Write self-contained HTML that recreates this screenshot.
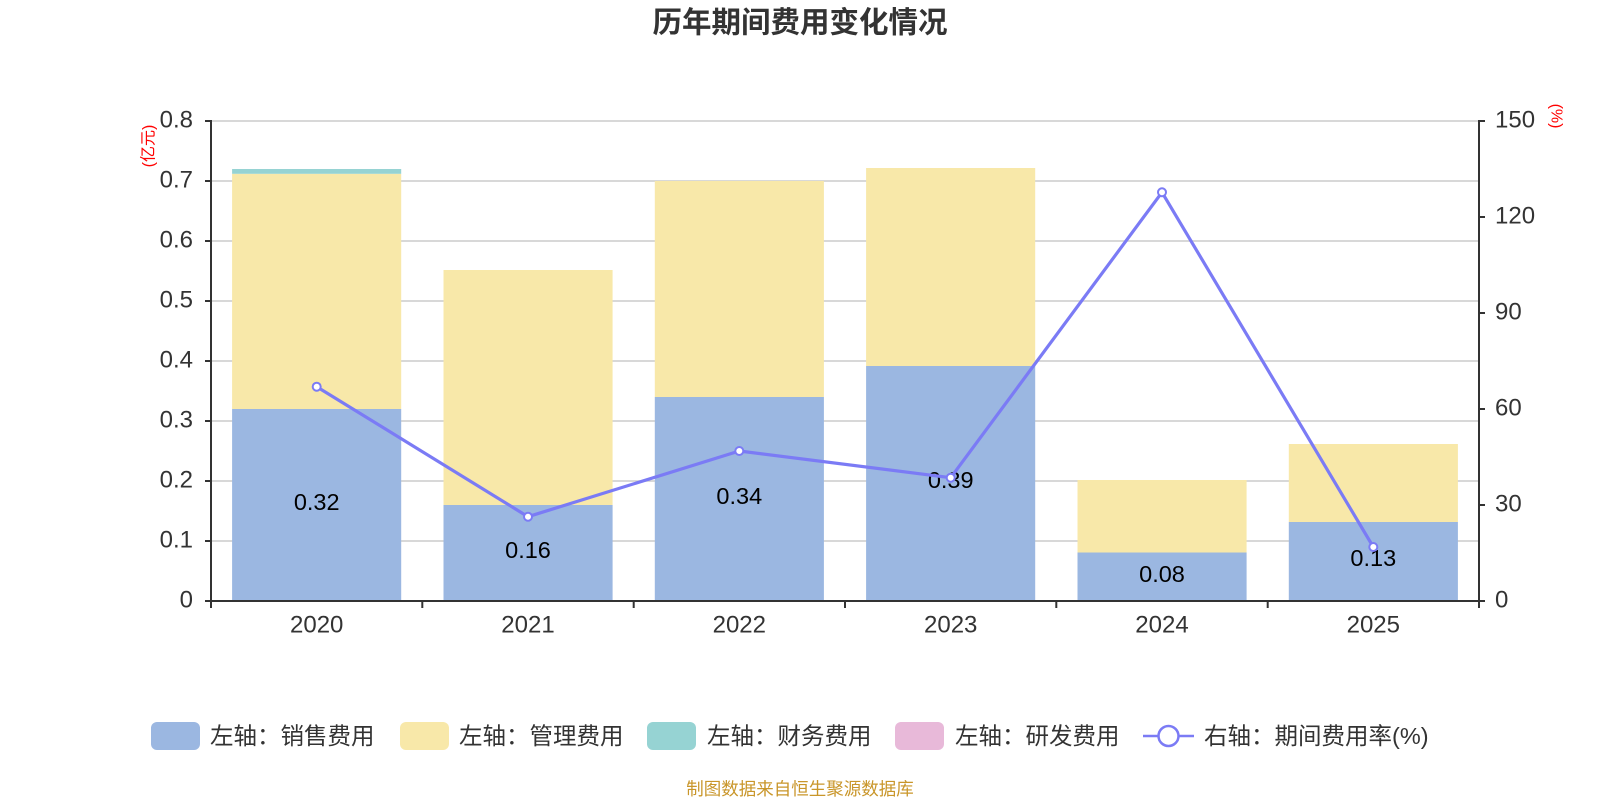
<!DOCTYPE html>
<html>
<head>
<meta charset="utf-8">
<style>
html,body{margin:0;padding:0;background:#fff;}
svg{display:block;}
text{font-family:"Liberation Sans","Noto Sans CJK SC",sans-serif;}
.cjk{font-family:"Liberation Sans","Noto Sans CJK SC",sans-serif;}
</style>
</head>
<body>
<svg width="1600" height="800" viewBox="0 0 1600 800" xmlns="http://www.w3.org/2000/svg">
  <rect x="0" y="0" width="1600" height="800" fill="#fff"/>
  <!-- Title -->
  <text x="800" y="23" text-anchor="middle" dominant-baseline="central" font-size="29.5" font-weight="bold" fill="#333" class="cjk">历年期间费用变化情况</text>

  <!-- Grid lines -->
  <g stroke="#cccccc" stroke-width="1.5">
    <line x1="211" y1="121" x2="1479" y2="121"/>
    <line x1="211" y1="181" x2="1479" y2="181"/>
    <line x1="211" y1="241" x2="1479" y2="241"/>
    <line x1="211" y1="301" x2="1479" y2="301"/>
    <line x1="211" y1="361" x2="1479" y2="361"/>
    <line x1="211" y1="421" x2="1479" y2="421"/>
    <line x1="211" y1="481" x2="1479" y2="481"/>
    <line x1="211" y1="541" x2="1479" y2="541"/>
  </g>

  <!-- Bars -->
  <g>
    <!-- 2020 -->
    <rect x="232.1" y="409" width="169.1" height="192" fill="#9bb7e1"/>
    <rect x="232.1" y="173.8" width="169.1" height="235.2" fill="#f8e8a9"/>
    <rect x="232.1" y="169" width="169.1" height="4.8" fill="#96d3d3"/>
    <!-- 2021 -->
    <rect x="443.5" y="505" width="169.1" height="96" fill="#9bb7e1"/>
    <rect x="443.5" y="270" width="169.1" height="235" fill="#f8e8a9"/>
    <!-- 2022 -->
    <rect x="654.8" y="397" width="169.1" height="204" fill="#9bb7e1"/>
    <rect x="654.8" y="181" width="169.1" height="216" fill="#f8e8a9"/>
    <!-- 2023 -->
    <rect x="866.1" y="366" width="169.1" height="235" fill="#9bb7e1"/>
    <rect x="866.1" y="168" width="169.1" height="198" fill="#f8e8a9"/>
    <!-- 2024 -->
    <rect x="1077.5" y="552.5" width="169.1" height="48.5" fill="#9bb7e1"/>
    <rect x="1077.5" y="480" width="169.1" height="72.5" fill="#f8e8a9"/>
    <!-- 2025 -->
    <rect x="1288.8" y="522" width="169.1" height="79" fill="#9bb7e1"/>
    <rect x="1288.8" y="444" width="169.1" height="78" fill="#f8e8a9"/>
  </g>

  <!-- Data labels -->
  <g font-size="23.5" fill="#000" text-anchor="middle" dominant-baseline="central">
    <text x="316.7" y="502">0.32</text>
    <text x="528" y="550">0.16</text>
    <text x="739.3" y="496">0.34</text>
    <text x="950.7" y="480">0.39</text>
    <text x="1162" y="574">0.08</text>
    <text x="1373.3" y="558">0.13</text>
  </g>

  <!-- Axes -->
  <g stroke="#333" stroke-width="2" fill="none">
    <line x1="211" y1="120" x2="211" y2="602"/>
    <line x1="1479" y1="120" x2="1479" y2="602"/>
    <line x1="210" y1="601" x2="1480" y2="601"/>
    <!-- left ticks -->
    <line x1="205" y1="121" x2="211" y2="121"/>
    <line x1="205" y1="181" x2="211" y2="181"/>
    <line x1="205" y1="241" x2="211" y2="241"/>
    <line x1="205" y1="301" x2="211" y2="301"/>
    <line x1="205" y1="361" x2="211" y2="361"/>
    <line x1="205" y1="421" x2="211" y2="421"/>
    <line x1="205" y1="481" x2="211" y2="481"/>
    <line x1="205" y1="541" x2="211" y2="541"/>
    <line x1="205" y1="601" x2="211" y2="601"/>
    <!-- right ticks -->
    <line x1="1479" y1="121" x2="1485" y2="121"/>
    <line x1="1479" y1="217" x2="1485" y2="217"/>
    <line x1="1479" y1="313" x2="1485" y2="313"/>
    <line x1="1479" y1="409" x2="1485" y2="409"/>
    <line x1="1479" y1="505" x2="1485" y2="505"/>
    <line x1="1479" y1="601" x2="1485" y2="601"/>
    <!-- x ticks -->
    <line x1="211" y1="601" x2="211" y2="608"/>
    <line x1="422.3" y1="601" x2="422.3" y2="608"/>
    <line x1="633.7" y1="601" x2="633.7" y2="608"/>
    <line x1="845" y1="601" x2="845" y2="608"/>
    <line x1="1056.3" y1="601" x2="1056.3" y2="608"/>
    <line x1="1267.7" y1="601" x2="1267.7" y2="608"/>
    <line x1="1479" y1="601" x2="1479" y2="608"/>
  </g>

  <!-- Left axis labels -->
  <g font-size="24" fill="#333" text-anchor="end" dominant-baseline="central">
    <text x="193" y="120">0.8</text>
    <text x="193" y="180">0.7</text>
    <text x="193" y="240">0.6</text>
    <text x="193" y="300">0.5</text>
    <text x="193" y="360">0.4</text>
    <text x="193" y="420">0.3</text>
    <text x="193" y="480">0.2</text>
    <text x="193" y="540">0.1</text>
    <text x="193" y="600">0</text>
  </g>
  <!-- Right axis labels -->
  <g font-size="24" fill="#333" text-anchor="start" dominant-baseline="central">
    <text x="1495" y="120">150</text>
    <text x="1495" y="216">120</text>
    <text x="1495" y="312">90</text>
    <text x="1495" y="408">60</text>
    <text x="1495" y="504">30</text>
    <text x="1495" y="600">0</text>
  </g>
  <!-- X axis labels -->
  <g font-size="24" fill="#333" text-anchor="middle" dominant-baseline="central">
    <text x="316.7" y="625">2020</text>
    <text x="528" y="625">2021</text>
    <text x="739.3" y="625">2022</text>
    <text x="950.7" y="625">2023</text>
    <text x="1162" y="625">2024</text>
    <text x="1373.3" y="625">2025</text>
  </g>

  <!-- Axis unit names -->
  <text transform="translate(149,146) rotate(-90)" text-anchor="middle" dominant-baseline="central" font-size="16" fill="#ff0000" class="cjk">(亿元)</text>
  <text transform="translate(1556,116) rotate(90)" text-anchor="middle" dominant-baseline="central" font-size="16" fill="#ff0000">(%)</text>

  <!-- Line series -->
  <polyline points="316.7,386.7 528,516.7 739.3,451 950.7,477.7 1162,192.3 1373.3,547" fill="none" stroke="#7b7bf5" stroke-width="3.2" stroke-linejoin="round"/>
  <g fill="#fff" stroke="#7b7bf5" stroke-width="2">
    <circle cx="316.7" cy="386.7" r="4"/>
    <circle cx="528" cy="516.7" r="4"/>
    <circle cx="739.3" cy="451" r="4"/>
    <circle cx="950.7" cy="477.7" r="4"/>
    <circle cx="1162" cy="192.3" r="4"/>
    <circle cx="1373.3" cy="547" r="4"/>
  </g>

  <!-- Legend -->
  <g font-size="23.5" fill="#333" dominant-baseline="central" class="cjk">
    <rect x="151" y="722" width="49" height="28" rx="6" fill="#9bb7e1"/>
    <text x="210" y="736">左轴：销售费用</text>
    <rect x="400" y="722" width="49" height="28" rx="6" fill="#f8e8a9"/>
    <text x="459" y="736">左轴：管理费用</text>
    <rect x="647" y="722" width="49" height="28" rx="6" fill="#96d3d3"/>
    <text x="707" y="736">左轴：财务费用</text>
    <rect x="895" y="722" width="49" height="28" rx="6" fill="#e8b9d9"/>
    <text x="955" y="736">左轴：研发费用</text>
    <line x1="1143" y1="736" x2="1194" y2="736" stroke="#7b7bf5" stroke-width="2.5"/>
    <circle cx="1168.5" cy="736" r="10" fill="#fff" stroke="#7b7bf5" stroke-width="2.5"/>
    <text x="1204" y="736">右轴：期间费用率(%)</text>
  </g>

  <!-- Watermark -->
  <text x="800" y="789" text-anchor="middle" dominant-baseline="central" font-size="17.5" fill="#c9962a" class="cjk">制图数据来自恒生聚源数据库</text>
</svg>
</body>
</html>
